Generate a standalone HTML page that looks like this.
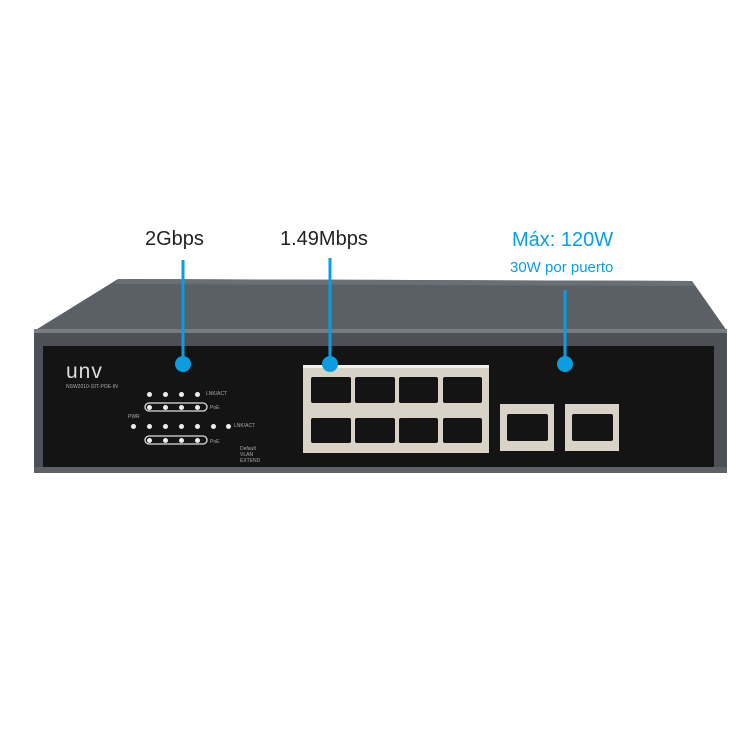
<!DOCTYPE html>
<html><head><meta charset="utf-8"><style>
body{margin:0;width:750px;height:750px;background:#fff;position:relative;overflow:hidden;font-family:"Liberation Sans",sans-serif}
.a{position:absolute}
.port{position:absolute;background:#141414;border-radius:2px}
.lbl{position:absolute;color:#aaa;font-size:5px}
.led{position:absolute;width:5px;height:5px;border-radius:50%;background:#eee}
</style></head><body>
<svg class="a" style="left:0;top:0" width="750" height="750">
<polygon points="118,279 692,281 727,331 34,331" fill="#5b5f66"/>
<polygon points="118,279 692,281 695,286 115,284" fill="#6a6e75"/>
<rect x="34" y="329" width="693" height="144" fill="#4d5157"/>
<rect x="34" y="329" width="693" height="4" fill="#777b82"/>
<rect x="43" y="346" width="671" height="121" fill="#141414"/>
<rect x="34" y="467" width="693" height="6" fill="#5e6268"/>
<rect x="303" y="365" width="186" height="88" fill="#d9d2c6"/>
<rect x="303" y="365" width="186" height="3" fill="#f2f0ec"/>
<rect x="500" y="404" width="54" height="47" fill="#d9d2c6"/>
<rect x="565" y="404" width="54" height="47" fill="#d9d2c6"/>
<g stroke="#0a9ee0" stroke-width="3"><line x1="183" y1="260" x2="183" y2="362"/><line x1="330" y1="258" x2="330" y2="362"/><line x1="565" y1="290" x2="565" y2="362"/></g>
<g fill="#0a9ee0"><circle cx="183" cy="364" r="8"/><circle cx="330" cy="364" r="8"/><circle cx="565" cy="364" r="8"/></g>
<g fill="none" stroke="#ddd" stroke-width="1.3"><rect x="145" y="403" width="62" height="8" rx="4"/><rect x="145" y="436" width="62" height="8" rx="4"/></g>
</svg>
<div class="port" style="left:311px;top:377px;width:40px;height:26px"></div>
<div class="port" style="left:355px;top:377px;width:40px;height:26px"></div>
<div class="port" style="left:399px;top:377px;width:39px;height:26px"></div>
<div class="port" style="left:443px;top:377px;width:39px;height:26px"></div>
<div class="port" style="left:311px;top:418px;width:40px;height:25px"></div>
<div class="port" style="left:355px;top:418px;width:40px;height:25px"></div>
<div class="port" style="left:399px;top:418px;width:39px;height:25px"></div>
<div class="port" style="left:443px;top:418px;width:39px;height:25px"></div>
<div class="port" style="left:507px;top:414px;width:41px;height:27px"></div>
<div class="port" style="left:572px;top:414px;width:41px;height:27px"></div>
<div class="a" style="left:66px;top:360px;color:#ddd;font-size:21px;letter-spacing:1px">unv</div>
<div class="lbl" style="left:66px;top:384px">NSW2010-10T-POE-IN</div>
<div class="led" style="left:147px;top:392px"></div><div class="led" style="left:163px;top:392px"></div><div class="led" style="left:179px;top:392px"></div><div class="led" style="left:195px;top:392px"></div>
<div class="led" style="left:147px;top:405px"></div><div class="led" style="left:163px;top:405px"></div><div class="led" style="left:179px;top:405px"></div><div class="led" style="left:195px;top:405px"></div>
<div class="led" style="left:131px;top:424px"></div>
<div class="led" style="left:147px;top:424px"></div><div class="led" style="left:163px;top:424px"></div><div class="led" style="left:179px;top:424px"></div><div class="led" style="left:195px;top:424px"></div><div class="led" style="left:211px;top:424px"></div><div class="led" style="left:226px;top:424px"></div>
<div class="led" style="left:147px;top:438px"></div><div class="led" style="left:163px;top:438px"></div><div class="led" style="left:179px;top:438px"></div><div class="led" style="left:195px;top:438px"></div>
<div class="lbl" style="left:206px;top:391px">LNK/ACT</div><div class="lbl" style="left:210px;top:405px">PoE</div>
<div class="lbl" style="left:128px;top:414px">PWR</div><div class="lbl" style="left:234px;top:423px">LNK/ACT</div><div class="lbl" style="left:210px;top:439px">PoE</div>
<div class="lbl" style="left:240px;top:446px;line-height:6px">Default<br>VLAN<br>EXTEND</div>
<div class="a" style="left:145px;top:228px;font-size:20px;color:#222">2Gbps</div>
<div class="a" style="left:280px;top:228px;font-size:20px;color:#222">1.49Mbps</div>
<div class="a" style="left:512px;top:229px;font-size:20px;color:#0a9ee0">Máx: 120W</div>
<div class="a" style="left:510px;top:259px;font-size:15px;color:#0a9ee0">30W por puerto</div>
</body></html>
